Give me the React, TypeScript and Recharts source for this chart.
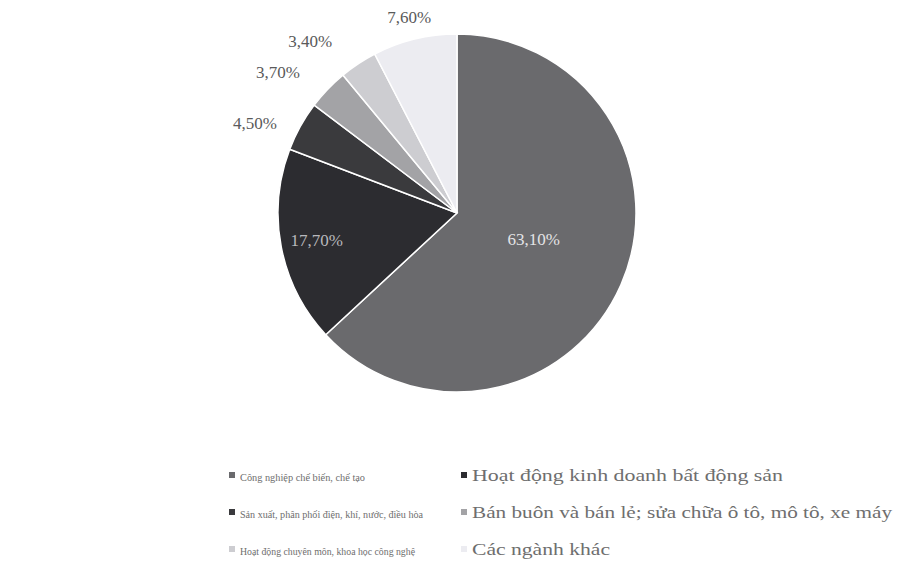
import React from "react";
import { PieChart, Pie, Cell } from "recharts";

// share of each sector, clockwise from 12 o'clock
const sectors = [
  "Công nghiệp chế biến, chế tạo",
  "Hoạt động kinh doanh bất động sản",
  "Sản xuất, phân phối điện, khí, nước, điều hòa",
  "Bán buôn và bán lẻ; sửa chữa ô tô, mô tô, xe máy",
  "Hoạt động chuyên môn, khoa học công nghệ",
  "Các ngành khác",
];
const shares = [63.1, 17.7, 4.5, 3.7, 3.4, 7.6];
const shareLabels = ["63,10%", "17,70%", "4,50%", "3,70%", "3,40%", "7,60%"];

const colors = ["#6a6a6d", "#2c2c30", "#3a3a3d", "#a3a3a6", "#cdcdd1", "#ececf1"];

const data = sectors.map((name, i) => ({ name, value: shares[i] }));

// label placement: distance from centre and angle nudge (deg, clockwise)
const labelPlace = [
  { r: 81, da: -5, fill: "#e4e4e6" },
  { r: 143, da: 0, fill: "#b8b8bc" },
  { r: 221, da: -5, fill: "#5a5a5a" },
  { r: 228, da: -5.5, fill: "#5a5a5a" },
  { r: 226, da: -7, fill: "#5a5a5a" },
  { r: 202, da: 0, fill: "#5a5a5a" },
];

// legend: two columns, three rows, filled row by row
const legendCols = [229, 461];
const legendFont = [11, 16];
const legendRows = [481, 518, 555];
const legendWidths = [125, 311, 183, 420, 175, 138];

const renderLabel = (props: any) => {
  const { cx, cy, midAngle, index } = props;
  const p = labelPlace[index];
  const theta = ((90 - midAngle + p.da) * Math.PI) / 180;
  const x = cx + p.r * Math.sin(theta);
  const y = cy - p.r * Math.cos(theta);
  return (
    <text
      x={x}
      y={y}
      dy={6}
      textAnchor="middle"
      fill={p.fill}
      style={{ fontSize: "17px", fontFamily: "Liberation Serif, serif" }}
    >
      {shareLabels[index]}
    </text>
  );
};

const SectorLegend = () => (
  <svg
    width={904}
    height={561}
    style={{ position: "absolute", left: 0, top: 0, pointerEvents: "none" }}
  >
    {sectors.map((name, i) => {
      const col = legendCols[i % 2];
      const row = legendRows[Math.floor(i / 2)];
      return (
        <g key={name}>
          <rect x={col} y={row - 9} width={6} height={6} fill={colors[i]} />
          <text
            x={col + 11}
            y={row}
            fill="#6e6e6e"
            textLength={legendWidths[i]}
            lengthAdjust="spacingAndGlyphs"
            style={{
              fontSize: `${legendFont[i % 2]}px`,
              fontFamily: "Liberation Serif, serif",
            }}
          >
            {name}
          </text>
        </g>
      );
    })}
  </svg>
);

export default function App() {
  return (
    <div
      style={{
        position: "absolute",
        left: 0,
        top: 0,
        width: 904,
        height: 561,
        background: "#fff",
      }}
    >
      <PieChart width={904} height={561} margin={{ top: 0, right: 0, bottom: 0, left: 0 }}>
        <Pie
          data={data}
          dataKey="value"
          nameKey="name"
          cx={457}
          cy={213}
          outerRadius={179}
          startAngle={90}
          endAngle={-270}
          stroke="#ffffff"
          strokeWidth={1.5}
          label={renderLabel}
          labelLine={false}
          isAnimationActive={false}
        >
          {data.map((d, i) => (
            <Cell key={d.name} fill={colors[i]} />
          ))}
        </Pie>
      </PieChart>
      <SectorLegend />
    </div>
  );
}
